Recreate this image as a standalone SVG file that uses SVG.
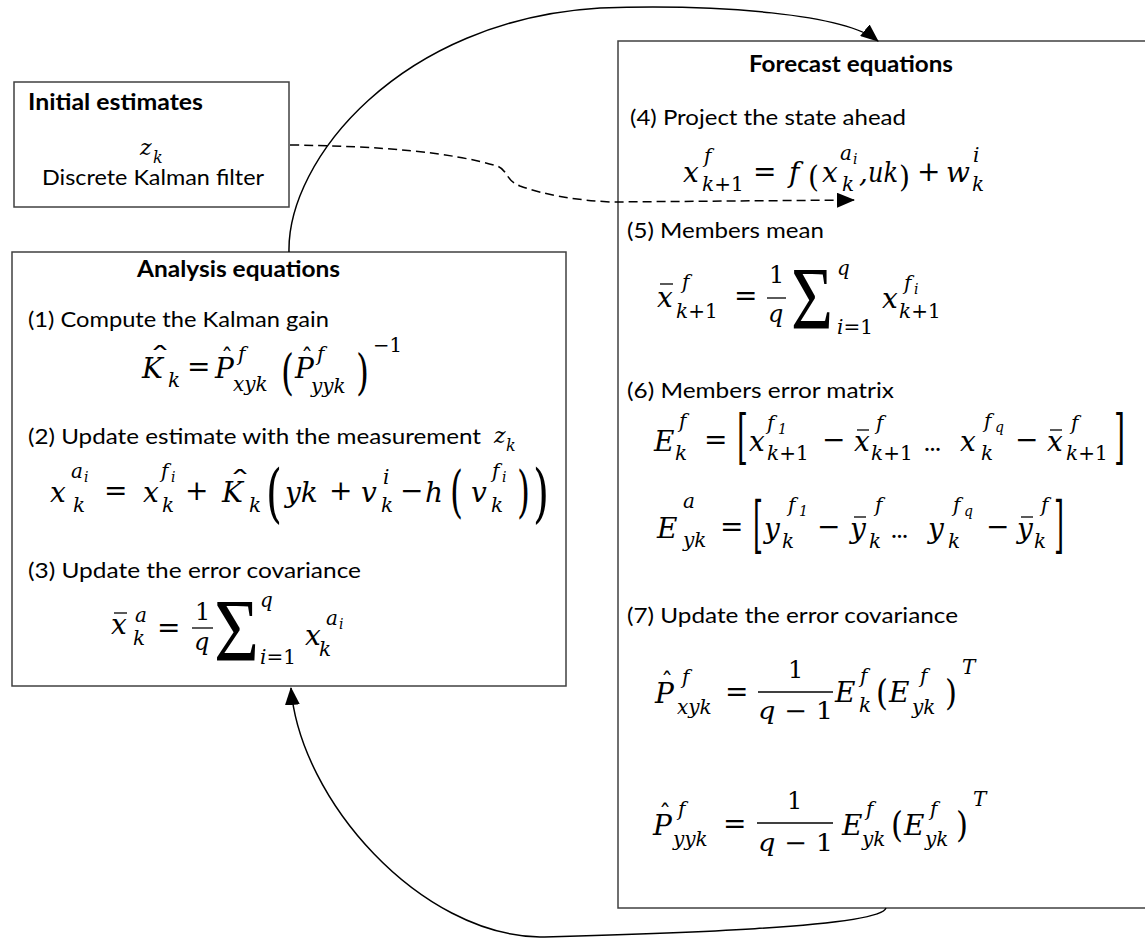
<svg xmlns="http://www.w3.org/2000/svg" width="1145" height="938" viewBox="0 0 1145 938">
<style>
.box{fill:#fff;stroke:#404040;stroke-width:1.5}
.t{font-family:Lato,"Liberation Sans",sans-serif;font-size:22px;fill:#000}
.b{font-weight:bold}
.m{font-family:"DejaVu Serif",serif;font-style:italic;font-size:28px;fill:#000}
.u{font-family:"DejaVu Serif",serif;font-style:normal;font-size:28px;fill:#000}
.s{font-family:"DejaVu Serif",serif;font-style:italic;font-size:20px;fill:#000}
.su{font-family:"DejaVu Serif",serif;font-style:normal;font-size:20px;fill:#000}
.ss{font-family:"DejaVu Serif",serif;font-style:italic;font-size:14px;fill:#000}
.f{font-family:"DejaVu Serif",serif;font-size:24px;fill:#000}
.sig{font-family:"Liberation Serif",serif;font-size:88px;fill:#000}
.dots{font-family:"DejaVu Serif",serif;font-size:17px;font-weight:bold;fill:#000}
.bar{stroke:#000;stroke-width:1.3}
.c{fill:none;stroke:#000;stroke-width:1.5}
.d{stroke-dasharray:9 5}
</style>
<defs>
<marker id="ah" markerUnits="userSpaceOnUse" markerWidth="18" markerHeight="15" viewBox="0 0 18 15" refX="17" refY="7.5" orient="auto">
<path d="M0 0 L18 7.5 L0 15 z" fill="#000"/>
</marker>
</defs>

<g id="forecast-equations">
<rect class="box" x="618" y="41" width="540" height="867"/>
<text class="t b" x="749" y="72" textLength="204" lengthAdjust="spacingAndGlyphs">Forecast equations</text>
<text class="t" x="630" y="125" textLength="276" lengthAdjust="spacingAndGlyphs">(4) Project the state ahead</text>
<!-- eq4 -->
<text class="m" x="683" y="182">x</text>
<text class="s" x="704" y="163">f</text>
<text class="s" x="702" y="191">k<tspan class="su">+1</tspan></text>
<text class="u" x="753" y="181">=</text>
<text class="m" x="789" y="182">f</text>
<text class="u" x="808" y="187" style="font-size:30px" textLength="11" lengthAdjust="spacingAndGlyphs">(</text>
<text class="m" x="822" y="182">x</text>
<text class="s" x="840" y="160">a</text>
<text class="ss" x="853" y="164">i</text>
<text class="s" x="842" y="191">k</text>
<text class="m" x="859" y="182">,</text>
<text class="m" x="868" y="182" textLength="30" lengthAdjust="spacingAndGlyphs">uk</text>
<text class="u" x="899" y="187" style="font-size:30px" textLength="11" lengthAdjust="spacingAndGlyphs">)</text>
<text class="u" x="917" y="181">+</text>
<text class="m" x="946" y="182">w</text>
<text class="s" x="973" y="162">i</text>
<text class="s" x="972" y="191">k</text>

<text class="t" x="627" y="238" textLength="197" lengthAdjust="spacingAndGlyphs">(5) Members mean</text>
<!-- eq5 -->
<text class="m" x="657" y="307">x</text>
<line class="bar" x1="660" y1="284" x2="673" y2="284"/>
<text class="s" x="682" y="289">f</text>
<text class="s" x="676" y="318">k<tspan class="su">+1</tspan></text>
<text class="u" x="734" y="305">=</text>
<text class="f" x="769" y="283">1</text>
<line class="bar" x1="767" y1="298" x2="786" y2="298"/>
<text class="f" x="768" y="322" font-style="italic">q</text>
<text class="sig" x="791" y="328" textLength="42" lengthAdjust="spacingAndGlyphs">Σ</text>
<text class="s" x="837" y="275">q</text>
<text class="s" x="837" y="334">i<tspan class="su">=1</tspan></text>
<text class="m" x="882" y="308">x</text>
<text class="s" x="904" y="290">f</text>
<text class="ss" x="914" y="294">i</text>
<text class="s" x="899" y="318">k<tspan class="su">+1</tspan></text>

<text class="t" x="627" y="398" textLength="267" lengthAdjust="spacingAndGlyphs">(6) Members error matrix</text>
<!-- eq6a -->
<text class="m" x="654" y="451">E</text>
<text class="s" x="679" y="428">f</text>
<text class="s" x="675" y="460">k</text>
<text class="u" x="704" y="449">=</text>
<text class="u" x="737" y="457" style="font-size:60px" textLength="11" lengthAdjust="spacingAndGlyphs">[</text>
<text class="m" x="749" y="451">x</text>
<text class="s" x="767" y="430">f</text>
<text class="ss" x="778" y="434" font-style="normal">1</text>
<text class="s" x="767" y="460">k<tspan class="su">+1</tspan></text>
<text class="u" x="822" y="449">−</text>
<text class="m" x="854" y="451">x</text>
<line class="bar" x1="857" y1="430" x2="869" y2="430"/>
<text class="s" x="876" y="430">f</text>
<text class="s" x="871" y="460">k<tspan class="su">+1</tspan></text>
<text class="dots" x="924" y="451">…</text>
<text class="m" x="960" y="451">x</text>
<text class="s" x="984" y="428">f</text>
<text class="ss" x="995" y="432">q</text>
<text class="s" x="981" y="460">k</text>
<text class="u" x="1015" y="449">−</text>
<text class="m" x="1047" y="451">x</text>
<line class="bar" x1="1050" y1="430" x2="1062" y2="430"/>
<text class="s" x="1071" y="430">f</text>
<text class="s" x="1066" y="460">k<tspan class="su">+1</tspan></text>
<text class="u" x="1114" y="457" style="font-size:60px" textLength="11" lengthAdjust="spacingAndGlyphs">]</text>
<!-- eq6b -->
<text class="m" x="657" y="538">E</text>
<text class="s" x="683" y="508">a</text>
<text class="s" x="683" y="547">yk</text>
<text class="u" x="720" y="536">=</text>
<text class="u" x="753" y="546" style="font-size:62px" textLength="10" lengthAdjust="spacingAndGlyphs">[</text>
<text class="m" x="764" y="538">y</text>
<text class="s" x="788" y="512">f</text>
<text class="ss" x="799" y="516" font-style="normal">1</text>
<text class="s" x="782" y="548">k</text>
<text class="u" x="817" y="536">−</text>
<text class="m" x="850" y="538">y</text>
<line class="bar" x1="854" y1="517" x2="866" y2="517"/>
<text class="s" x="875" y="512">f</text>
<text class="s" x="869" y="548">k</text>
<text class="dots" x="891" y="538">…</text>
<text class="m" x="928" y="538">y</text>
<text class="s" x="953" y="512">f</text>
<text class="ss" x="964" y="516">q</text>
<text class="s" x="948" y="548">k</text>
<text class="u" x="986" y="536">−</text>
<text class="m" x="1017" y="538">y</text>
<line class="bar" x1="1021" y1="517" x2="1033" y2="517"/>
<text class="s" x="1041" y="512">f</text>
<text class="s" x="1034" y="548">k</text>
<text class="u" x="1054" y="546" style="font-size:62px" textLength="10" lengthAdjust="spacingAndGlyphs">]</text>

<text class="t" x="627" y="623" textLength="331" lengthAdjust="spacingAndGlyphs">(7) Update the error covariance</text>
<!-- eq7a -->
<text class="m" x="655" y="703">P</text>
<text class="u" x="661" y="690" style="font-size:24px">ˆ</text>
<text class="s" x="682" y="684">f</text>
<text class="s" x="677" y="714">xyk</text>
<text class="u" x="725" y="701">=</text>
<text class="f" x="788" y="678">1</text>
<line class="bar" x1="758" y1="692" x2="833" y2="692"/>
<text class="f" x="758" y="719" textLength="75" lengthAdjust="spacingAndGlyphs"><tspan font-style="italic">q</tspan> − 1</text>
<text class="m" x="835" y="702">E</text>
<text class="s" x="860" y="683">f</text>
<text class="s" x="859" y="712">k</text>
<text class="u" x="876" y="705" style="font-size:36px" textLength="12" lengthAdjust="spacingAndGlyphs">(</text>
<text class="m" x="889" y="702">E</text>
<text class="s" x="920" y="683">f</text>
<text class="s" x="912" y="714">yk</text>
<text class="u" x="945" y="705" style="font-size:36px" textLength="12" lengthAdjust="spacingAndGlyphs">)</text>
<text class="s" x="962" y="674">T</text>
<!-- eq7b -->
<text class="m" x="653" y="835">P</text>
<text class="u" x="659" y="822" style="font-size:24px">ˆ</text>
<text class="s" x="678" y="816">f</text>
<text class="s" x="673" y="846">yyk</text>
<text class="u" x="723" y="833">=</text>
<text class="f" x="787" y="809">1</text>
<line class="bar" x1="757" y1="823" x2="833" y2="823"/>
<text class="f" x="758" y="851" textLength="75" lengthAdjust="spacingAndGlyphs"><tspan font-style="italic">q</tspan> − 1</text>
<text class="m" x="842" y="835">E</text>
<text class="s" x="866" y="816">f</text>
<text class="s" x="862" y="846">yk</text>
<text class="u" x="891" y="837" style="font-size:36px" textLength="12" lengthAdjust="spacingAndGlyphs">(</text>
<text class="m" x="904" y="835">E</text>
<text class="s" x="930" y="816">f</text>
<text class="s" x="925" y="846">yk</text>
<text class="u" x="956" y="837" style="font-size:36px" textLength="12" lengthAdjust="spacingAndGlyphs">)</text>
<text class="s" x="973" y="806">T</text>
</g>

<g id="initial-estimates">
<rect class="box" x="14" y="82" width="275" height="125"/>
<text class="t b" x="28" y="110" textLength="175" lengthAdjust="spacingAndGlyphs">Initial estimates</text>
<text class="m" x="140" y="155" style="font-size:22px">z</text>
<text class="s" x="153" y="163" style="font-size:16px">k</text>
<text class="t" x="42" y="185" textLength="222" lengthAdjust="spacingAndGlyphs">Discrete Kalman filter</text>
</g>

<g id="analysis-equations">
<rect class="box" x="12" y="252" width="554" height="434"/>
<text class="t b" x="137" y="277" textLength="203" lengthAdjust="spacingAndGlyphs">Analysis equations</text>
<text class="t" x="28" y="327" textLength="301" lengthAdjust="spacingAndGlyphs">(1) Compute the Kalman gain</text>
<!-- eq1 -->
<text class="m" x="142" y="378">K</text>
<text class="u" x="149" y="367" style="font-size:28px" textLength="22" lengthAdjust="spacingAndGlyphs">ˆ</text>
<text class="s" x="168" y="387">k</text>
<text class="u" x="187" y="376">=</text>
<text class="m" x="215" y="378">P</text>
<text class="u" x="221" y="366" style="font-size:24px">ˆ</text>
<text class="s" x="238" y="361">f</text>
<text class="s" x="233" y="391">xyk</text>
<text class="u" x="281" y="389" style="font-size:48px" textLength="13" lengthAdjust="spacingAndGlyphs">(</text>
<text class="m" x="295" y="378">P</text>
<text class="u" x="301" y="366" style="font-size:24px">ˆ</text>
<text class="s" x="317" y="361">f</text>
<text class="s" x="311" y="393">yyk</text>
<text class="u" x="356" y="389" style="font-size:48px" textLength="13" lengthAdjust="spacingAndGlyphs">)</text>
<text class="su" x="373" y="352" textLength="29" lengthAdjust="spacingAndGlyphs">−1</text>

<text class="t" x="28" y="444" textLength="453" lengthAdjust="spacingAndGlyphs">(2) Update estimate with the measurement</text>
<text class="m" x="494" y="443" style="font-size:22px">z</text>
<text class="s" x="506" y="451" style="font-size:16px">k</text>
<!-- eq2 -->
<text class="m" x="50" y="502">x</text>
<text class="s" x="71" y="478">a</text>
<text class="ss" x="84" y="482">i</text>
<text class="s" x="73" y="512">k</text>
<text class="u" x="104" y="500">=</text>
<text class="m" x="143" y="502">x</text>
<text class="s" x="161" y="478">f</text>
<text class="ss" x="171" y="482">i</text>
<text class="s" x="162" y="512">k</text>
<text class="u" x="185" y="500">+</text>
<text class="m" x="222" y="502">K</text>
<text class="u" x="229" y="491" style="font-size:28px" textLength="22" lengthAdjust="spacingAndGlyphs">ˆ</text>
<text class="s" x="249" y="512">k</text>
<text class="u" x="266" y="515" style="font-size:63px" textLength="16" lengthAdjust="spacingAndGlyphs">(</text>
<text class="m" x="285" y="502">yk</text>
<text class="u" x="329" y="500">+</text>
<text class="m" x="361" y="502">v</text>
<text class="s" x="383" y="484">i</text>
<text class="s" x="381" y="512">k</text>
<text class="u" x="400" y="500">−</text>
<text class="m" x="425" y="502">h</text>
<text class="u" x="450" y="511" style="font-size:56px" textLength="13" lengthAdjust="spacingAndGlyphs">(</text>
<text class="m" x="471" y="502">v</text>
<text class="s" x="492" y="478">f</text>
<text class="ss" x="502" y="482">i</text>
<text class="s" x="491" y="512">k</text>
<text class="u" x="517" y="511" style="font-size:56px" textLength="13" lengthAdjust="spacingAndGlyphs">)</text>
<text class="u" x="533" y="515" style="font-size:63px" textLength="16" lengthAdjust="spacingAndGlyphs">)</text>

<text class="t" x="28" y="578" textLength="333" lengthAdjust="spacingAndGlyphs">(3) Update the error covariance</text>
<!-- eq3 -->
<text class="m" x="111" y="634">x</text>
<line class="bar" x1="114" y1="613" x2="127" y2="613"/>
<text class="s" x="135" y="622">a</text>
<text class="s" x="133" y="645">k</text>
<text class="u" x="157" y="637">=</text>
<text class="f" x="195" y="620">1</text>
<line class="bar" x1="192" y1="628" x2="213" y2="628"/>
<text class="f" x="194" y="650" font-style="italic">q</text>
<text class="sig" x="214" y="660" textLength="45" lengthAdjust="spacingAndGlyphs">Σ</text>
<text class="s" x="260" y="607">q</text>
<text class="s" x="260" y="664">i<tspan class="su">=1</tspan></text>
<text class="m" x="305" y="645">x</text>
<text class="s" x="326" y="625">a</text>
<text class="ss" x="339" y="629">i</text>
<text class="s" x="319" y="656">k</text>
</g>

<g id="connectors">
<path class="c" d="M289 252 C287 160 400 20 600 8 C720 4 845 14 878 41" marker-end="url(#ah)"/>
<path class="c d" d="M290 145 C380 146 450 152 497 166 C508 170 505 180 520 186 C545 195 575 200 610 202 L854 200" marker-end="url(#ah)"/>
<path class="c" d="M886 908 C880 928 650 934 540 937 C420 935 300 800 291 688" marker-end="url(#ah)"/>
</g>
</svg>
